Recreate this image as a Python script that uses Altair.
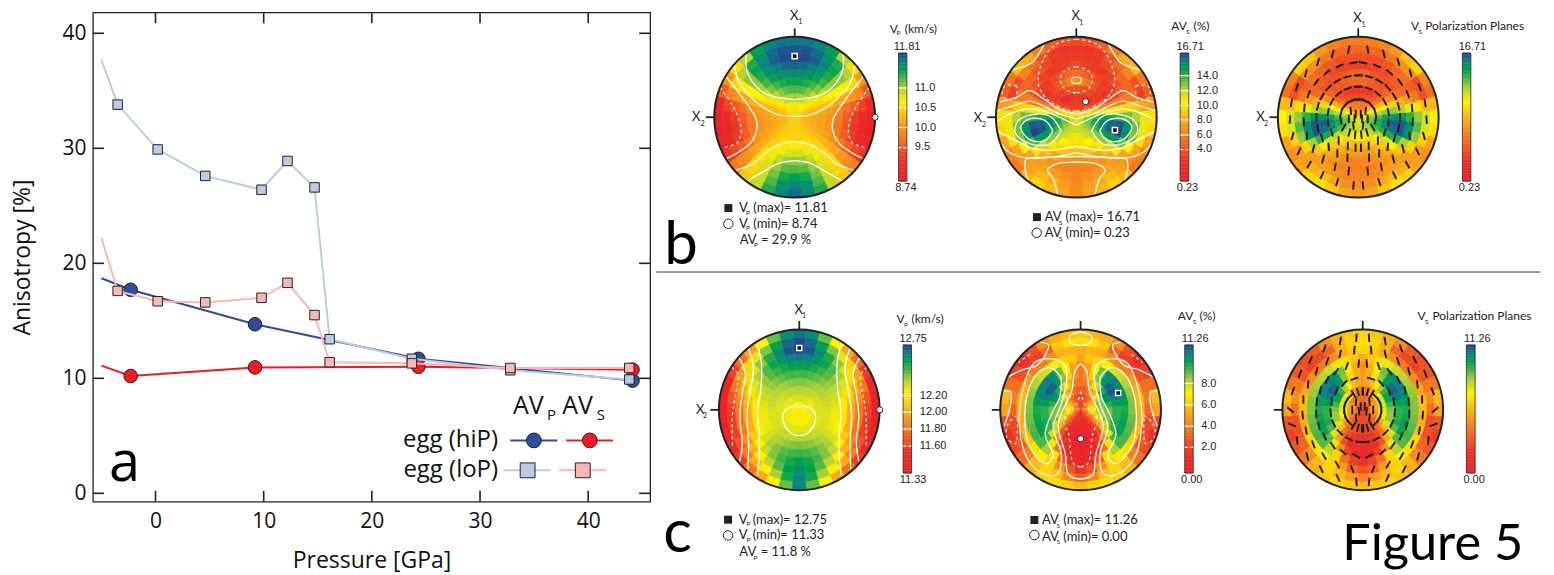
import math
import altair as alt
import numpy as np
import pandas as pd

# ---------- panel a values ----------
P_LOP = [-5.0, -3.5, 0.2, 4.6, 9.8, 12.2, 14.7, 16.1, 23.7, 32.8, 43.8]
AVP_LOP = [37.7, 33.8, 29.9, 27.6, 26.4, 28.9, 26.6, 13.4, 11.7, 10.7, 9.9]
AVS_LOP = [22.2, 17.6, 16.7, 16.6, 17.0, 18.3, 15.5, 11.4, 11.3, 10.9, 10.9]
P_HIP = [-5.0, -2.3, 9.2, 24.3, 44.1]
AVP_HIP = [18.7, 17.7, 14.7, 11.7, 9.8]
AVS_HIP = [11.1, 10.2, 10.95, 11.0, 10.75]
XTICKS = [0, 10, 20, 30, 40]
YTICKS = [0, 10, 20, 30, 40]
XDOM = [-5.79, 45.73]
YDOM = [-0.73, 41.82]

BLUE, RED, LBLUE, PINK = "#2f4d9e", "#ed1c24", "#bccbe6", "#f9b8b8"
EDGE = "#222222"

# ---------- pole figure tables: colour position (percent of bar) by ring and azimuth 0..180 ----------
RINGS = [.05, .15, .25, .35, .45, .55, .65, .75, .85, .95]
AZ = list(range(0, 190, 10))
F_B_VP = [
[57,57,57,56,56,56,55,55,54,53,53,53,54,54,54,55,55,55,55],
[65,65,64,62,60,57,54,52,51,50,50,50,51,52,53,54,55,55,55],
[74,73,72,69,65,60,55,51,49,48,47,48,49,51,53,55,56,56,56],
[80,80,78,75,70,64,57,51,47,45,44,45,47,51,54,57,59,60,60],
[86,86,84,81,76,69,60,52,45,42,41,42,45,50,56,60,64,67,68],
[92,91,89,86,81,73,62,50,40,36,35,36,41,49,57,64,70,74,75],
[97,96,94,90,84,75,62,47,34,28,26,28,35,47,58,67,74,79,80],
[100,99,97,93,86,75,60,43,28,19,17,19,29,43,57,68,77,85,87],
[98,98,96,91,84,72,57,38,21,10,8,11,23,40,56,69,80,90,93],
[95,95,93,87,72,58,43,28,10,3,2,6,18,37,53,70,84,92,96]]
F_B_AVS = [
[40,42,43,45,47,50,53,55,58,60,62,63,63,63,62,61,60,60,60],
[18,18,18,18,22,30,42,53,62,68,72,72,70,68,66,64,63,62,62],
[18,17,15,10,14,20,32,47,62,75,80,80,76,70,65,62,60,58,57],
[25,24,23,20,18,18,24,38,58,82,90,90,82,70,62,56,54,52,52],
[38,36,32,26,20,16,20,34,56,80,95,97,85,68,56,50,48,47,47],
[32,30,26,22,18,18,22,34,52,76,97,100,86,62,48,42,40,38,37],
[22,20,18,18,20,24,28,35,50,72,87,88,72,52,42,39,37,36,35],
[18,18,18,22,26,30,30,34,48,65,72,70,55,42,40,42,40,38,36],
[16,16,18,25,32,36,24,20,42,58,58,52,42,38,42,46,44,40,37],
[22,24,28,35,44,46,34,28,40,52,50,42,36,34,45,50,46,42,38]]
F_B_POL = [
[42,42,43,44,46,48,50,52,55,58,60,60,60,60,60,60,60,60,60],
[34,34,33,34,36,42,50,56,62,68,72,72,70,68,66,64,63,62,62],
[22,22,22,24,28,34,44,54,64,74,80,80,76,70,64,60,58,56,56],
[18,18,18,20,24,30,42,54,68,82,90,88,78,64,54,50,48,46,46],
[30,30,28,26,26,30,38,50,68,86,96,94,80,60,48,44,42,40,40],
[30,30,26,24,24,26,32,44,64,84,97,97,78,56,44,40,38,36,36],
[20,20,20,22,26,28,30,40,58,78,88,86,66,48,40,38,36,35,35],
[24,24,24,26,30,32,28,34,52,68,74,68,50,40,40,40,38,36,36],
[30,30,30,34,38,38,22,24,46,60,60,50,40,40,44,46,42,38,38],
[34,35,36,40,48,50,36,32,46,55,52,42,38,42,50,52,48,42,40]]
F_C_VP = [
[62,62,62,62,62,62,62,62,62,62,61,61,61,61,60,60,60,60,60],
[68,68,67,67,66,66,65,65,65,64,64,64,64,64,63,63,63,63,63],
[72,72,71,71,70,69,68,68,67,67,67,66,66,66,66,66,66,66,66],
[76,76,75,74,73,72,71,70,69,68,67,67,67,68,69,70,71,71,72],
[81,81,80,78,76,74,71,69,67,65,64,64,65,68,71,73,75,76,77],
[87,87,85,82,79,75,71,67,63,60,59,60,63,68,73,76,79,81,82],
[94,93,90,86,80,73,66,59,53,49,48,49,54,61,70,76,81,85,87],
[100,98,92,84,75,66,57,48,40,35,34,35,41,50,61,71,79,87,91],
[99,96,87,76,66,56,45,35,26,20,18,20,27,37,49,61,73,85,93],
[95,91,78,62,47,33,20,10,5,2,2,3,9,19,33,47,62,78,93]]
F_C_AVS = [
[18,20,22,24,26,30,33,35,37,38,36,34,30,26,22,18,16,15,14],
[20,21,24,28,32,38,44,48,52,55,52,46,38,30,22,15,12,10,9],
[26,27,32,38,45,56,66,70,70,68,66,60,48,35,22,12,8,6,5],
[32,34,42,52,66,80,88,85,78,72,70,72,62,45,25,10,5,2,1],
[33,38,50,70,85,96,97,92,85,78,78,80,76,60,38,18,7,4,3],
[34,42,55,72,88,92,90,88,84,80,82,84,83,76,58,32,12,6,5],
[42,48,50,55,60,62,65,68,70,70,72,74,76,75,66,52,28,12,8],
[44,45,44,38,35,35,40,44,46,45,44,45,48,52,56,50,38,25,16],
[52,52,48,30,20,18,24,32,35,30,22,22,28,36,46,50,46,36,28],
[48,46,44,38,24,14,20,32,46,42,24,16,22,32,44,50,52,50,46]]
F_C_POL = [
[28,28,28,28,28,28,28,28,28,28,28,28,26,24,22,20,20,20,20],
[30,30,32,32,34,36,38,40,42,42,40,38,34,30,26,24,22,22,22],
[34,34,38,42,48,54,60,60,60,58,56,52,44,36,30,26,24,22,22],
[40,42,46,54,66,78,84,82,76,70,68,68,60,46,32,22,18,16,16],
[40,44,52,68,84,94,96,92,84,78,78,80,74,60,42,24,14,12,12],
[38,44,56,72,86,92,92,88,84,80,82,84,82,74,58,38,20,10,8],
[44,48,52,58,62,64,66,68,70,70,72,74,76,74,64,50,32,20,16],
[50,48,44,38,34,34,38,42,46,46,44,46,50,52,56,50,40,30,26],
[52,50,44,30,22,20,26,34,38,32,24,24,30,38,46,50,46,40,36],
[50,48,44,38,28,24,26,34,46,42,26,20,26,34,44,48,50,48,46]]

# centres of the discs on the page-like panel scale
DISCS = {"bvp": (794.7, 115, F_B_VP), "bavs": (1076.7, 115, F_B_AVS), "bpol": (1359, 115, F_B_POL),
         "cvp": (799.3, 408, F_C_VP), "cavs": (1081, 408, F_C_AVS), "cpol": (1363.5, 408, F_C_POL)}
HUE_READ = {"bavs", "bpol", "cavs", "cpol"}   # tables read by hue rather than from contour levels
HUE_OLD = [0, 15, 30, 45, 55, 65, 75, 83, 92, 100]
HUE_NEW = [0, 15, 30, 50, 62, 72, 80, 87, 94, 100]
R = 80.5

# contours: (dashed, points on right half in disc units), mirrored left
CONT_B_VP = [
 (0, [(.60,.81),(.60,.60),(.52,.43),(.36,.29),(.18,.24),(0,.22)]),
 (0, [(.75,.65),(.69,.43),(.48,.19),(.23,.04),(0,.01)]),
 (0, [(.85,.50),(.64,.23),(.48,-.02),(.47,-.14),(.54,-.31),(.69,-.43),(.86,-.52)]),
 (1, [(.93,.37),(.77,.14),(.67,-.12),(.71,-.31),(.89,-.38)]),
 (0, [(0,-.30),(.19,-.34),(.36,-.44),(.52,-.58),(.74,-.66)]),
 (0, [(0,-.54),(.19,-.57),(.36,-.66),(.60,-.80)])]
CONT_B_AVS = [
 (0, [(0,.5),(.05,.49),(.06,.46),(.05,.43),(0,.42)]),
 (1, [(0,.63),(.145,.58),(.2,.47),(.145,.35),(0,.30)]),
 (1, [(0,.97),(.25,.91),(.41,.72),(.475,.43),(.37,.23),(.165,.10),(0,.07)]),
 (1, [(.74,.39),(.89,.39),(.91,.25),(.76,.23),(.74,.39)]),
 (0, [(.37,.96),(.45,.82),(.55,.68),(.75,.60),(.97,.57)]),
 (0, [(0,.04),(.21,.10),(.41,.23),(.58,.33),(.74,.25),(.95,.19)]),
 (0, [(0,-.02),(.21,.04),(.41,.14),(.58,.2),(.79,.14),(.99,.08)]),
 (0, [(0,-.10),(.21,0),(.41,.08),(.62,.10),(.83,.04),(.97,-.04)]),
 (0, [(.19,-.17),(.31,0),(.50,.04),(.72,-.04),(.76,-.19),(.58,-.33),(.33,-.33),(.19,-.17)]),
 (0, [(.29,-.17),(.39,-.04),(.58,-.02),(.69,-.12),(.58,-.28),(.39,-.29),(.29,-.17)]),
 (0, [(0,-.36),(.29,-.41),(.54,-.39),(.79,-.27),(.99,-.17)]),
 (0, [(0,-.44),(.33,-.50),(.66,-.50),(.87,-.41),(.95,-.30)]),
 (0, [(0,-.49),(.41,-.50),(.62,-.52),(.64,-.64),(.60,-.78)]),
 (0, [(0,-.56),(.25,-.58),(.36,-.66),(.29,-.76),(.23,-.97)])]
CONT_C_VP = [
 (0, [(0,.04),(.09,.04),(.19,-.03),(.19,-.17),(.09,-.30),(0,-.32)]),
 (0, [(.52,.82),(.47,.57),(.48,.24),(.52,0),(.50,-.30),(.50,-.59),(.52,-.81)]),
 (0, [(.63,.76),(.57,.53),(.61,.24),(.65,-.05),(.63,-.42),(.64,-.74)]),
 (0, [(.75,.65),(.67,.45),(.71,.2),(.74,-.09),(.71,-.42),(.74,-.64)]),
 (1, [(.84,.53),(.76,.43),(.79,.2),(.83,-.05),(.83,-.46)])]
CONT_C_AVS = [
 (0, [(0,.97),(.13,.92),(.13,.84),(0,.80)]),
 (0, [(.50,.84),(.40,.81),(.44,.68),(.55,.55),(.72,.50),(.92,.40)]),
 (0, [(0,.58),(.07,.49),(.11,.24),(.24,-.05),(.28,-.21),(.19,-.55),(.15,-.81),(0,-.86)]),
 (1, [(0,.23),(.05,.07),(.21,-.13),(.15,-.30),(.09,-.67),(0,-.71)]),
 (0, [(.19,.55),(.32,.63),(.57,.59),(.71,.28),(.76,-.21),(.65,-.63),(.44,-.81),(.28,-.79),(.24,-.55),(.34,-.21),(.24,.07),(.17,.40),(.19,.55)]),
 (0, [(.24,.40),(.36,.52),(.52,.47),(.67,.16),(.65,-.42),(.44,-.67),(.34,-.59),(.44,-.30),(.36,-.05),(.26,.16),(.24,.40)]),
 (0, [(.97,.24),(.87,.22),(.88,.02),(.95,-.20)]),
 (1, [(.79,-.07),(.90,-.17),(.92,-.34),(.81,-.42),(.79,-.07)]),
 (1, [(.63,.69),(.77,.59)])]
CONTOURS = {"bvp": CONT_B_VP, "bavs": CONT_B_AVS, "cvp": CONT_C_VP, "cavs": CONT_C_AVS}

# polarization ticks: ring radius -> (azimuth, lean from vertical) on the right half, mirrored left
TICKS_B = {
 .05: [(40,0),(110,0)],
 .12: [(50,5),(100,0),(150,5)],
 .22: [(0,90),(25,-65),(50,-40),(75,-15),(100,10),(125,-30),(150,-15),(170,-5)],
 .38: [(0,90),(20,-70),(40,-50),(60,-30),(80,-10),(100,5),(120,15),(140,0),(160,0),(175,0)],
 .52: [(0,90),(15,-75),(30,-60),(45,-45),(60,-30),(75,-15),(90,0),(105,8),(120,15),(135,5),(150,0),(165,0)],
 .68: [(5,-80),(20,-65),(35,-50),(50,-35),(65,-20),(80,-5),(95,3),(110,-5),(125,-15),(140,-15),(155,-10),(170,-5)],
 .85: [(8,-10),(22,-15),(36,-15),(50,-15),(64,-20),(78,-10),(92,-5),(106,-15),(120,-25),(134,-30),(148,-25),(162,-18),(176,-5)]}
TICKS_C = {
 .05: [(30,0),(110,5)],
 .13: [(40,-5),(90,0),(140,5)],
 .23: [(0,0),(15,15),(30,30),(45,-45),(60,-30),(75,-15),(90,0),(105,15),(120,30),(135,45),(150,-30),(165,-15),(178,0)],
 .40: [(15,-70),(35,-40),(55,-20),(75,-5),(95,5),(115,25),(135,45),(155,65),(175,85)],
 .58: [(5,-5),(20,-20),(35,-35),(50,-25),(65,-10),(80,-3),(95,3),(110,12),(125,22),(140,35),(155,48),(172,60)],
 .75: [(8,-5),(22,-12),(36,-20),(50,-15),(65,-5),(80,0),(95,5),(110,10),(125,20),(140,30),(155,30),(170,20)],
 .90: [(5,-3),(18,-10),(32,-20),(46,-25),(60,-20),(75,-20),(90,50),(102,70),(115,5),(130,15),(145,25),(160,25),(175,5)]}

# colour bars: left, right, top, bottom, tick positions (fraction, dashed)
BARS = [
 (898.7, 907, 50.7, 179, [(.727,0),(.574,0),(.418,0),(.262,1)]),
 (1180.7, 1189.3, 50.7, 179, [(.823,0),(.706,0),(.59,0),(.478,0),(.361,0),(.247,1)]),
 (1463.3, 1471.7, 50.7, 179, []),
 (903.3, 911.7, 343, 471.3, [(.605,0),(.475,0),(.343,0),(.21,1)]),
 (1185.3, 1193.7, 343, 471.3, [(.699,0),(.532,0),(.366,0),(.2,1)]),
 (1467.3, 1476, 343, 471.3, [])]
STOPS = [0, .15, .3, .5, .62, .72, .8, .87, .94, 1]
COLORS = ["#e8202a", "#ea2e26", "#f26522", "#fbb417", "#fff200", "#b5d334", "#4cb748", "#00a14b", "#0b7f86", "#27408f"]

# max / min markers (disc, u, v)
MAX_MARK = [("bvp", 0, .76), ("bavs", .48, -.16), ("cvp", 0, .77), ("cavs", .467, .21)]
MIN_MARK = [("bvp", 1, 0), ("bavs", .116, .194), ("cvp", 1, 0), ("cavs", 0, -.36)]
LEG_SQ = [(728.3, 206), (1037.3, 215), (728, 518), (1034.7, 518.3)]
LEG_CI = [(728.3, 221.7), (1037, 230.7), (728, 533.7), (1034.7, 533.3)]
SEP = (656, 1541, 270)

M, H = "Lato", "Liberation Sans"
# x, y, text, size, align, font
T = [
 # b Vp
 (794.3,13.3,"X",13,"center",M),(800.3,20,"1",7,"center",M),(696,115,"X",13,"center",M),(702.7,121.7,"2",7,"center",M),
 (890,26.7,"V",12,"left",M),(898.7,30.7,"P",6.5,"center",M),(905,26.7,"(km/s)",12,"left",M),
 (907.3,45,"11.81",11,"center",H),(906,185.7,"8.74",11,"center",H),
 (915,85.7,"11.0",11,"left",H),(915,105.3,"10.5",11,"left",H),(915,125.3,"10.0",11,"left",H),(915,145.3,"9.5",11,"left",H),
 (739,206,"V",13,"left",M),(748,210.7,"P",6.5,"center",M),(753.3,206,"(max)= 11.81",13,"left",M),
 (739,221.7,"V",13,"left",M),(748,226.4,"P",6.5,"center",M),(753.3,221.7,"(min)= 8.74",13,"left",M),
 (739.7,238,"AV",13,"left",M),(756,243,"P",6.5,"center",M),(761,238,"= 29.9 %",13,"left",M),
 # b AVs
 (1076,14,"X",13,"center",M),(1081.7,21,"1",7,"center",M),(978.3,115.7,"X",13,"center",M),(984.3,122.7,"2",7,"center",M),
 (1171.7,24,"AV",12,"left",M),(1188.3,30,"S",6.5,"center",M),(1194,24,"(%)",12,"left",M),
 (1190.7,45,"16.71",11,"center",H),(1188,185.7,"0.23",11,"center",H),
 (1197.3,73.3,"14.0",11,"left",H),(1197.3,88.3,"12.0",11,"left",H),(1197.3,103.3,"10.0",11,"left",H),
 (1197.3,117.7,"8.0",11,"left",H),(1197.3,132.7,"6.0",11,"left",H),(1197.3,147.3,"4.0",11,"left",H),
 (1045,215,"AV",13,"left",M),(1061,220.7,"S",6.5,"center",M),(1066,215,"(max)= 16.71",13,"left",M),
 (1045,231,"AV",13,"left",M),(1061,236.7,"S",6.5,"center",M),(1066,231,"(min)= 0.23",13,"left",M),
 # b pol
 (1358.3,15.7,"X",13,"center",M),(1364.3,22.3,"1",7,"center",M),(1261,115,"X",13,"center",M),(1266.7,121.7,"2",7,"center",M),
 (1411.7,23.7,"V",12,"left",M),(1421,30,"S",6.5,"center",M),(1426,23.7,"Polarization Planes",12,"left",M),
 (1473.3,45,"16.71",11,"center",H),(1470.3,185.7,"0.23",11,"center",H),
 # c Vp
 (798.7,307.7,"X",13,"center",M),(804,314.3,"1",7,"center",M),(700,408.3,"X",13,"center",M),(705,414.3,"2",7,"center",M),
 (896.7,316.7,"V",12,"left",M),(906,322.7,"P",6.5,"center",M),(911.7,316.7,"(km/s)",12,"left",M),
 (913.3,336.7,"12.75",11,"center",H),(913.3,478.7,"11.33",11,"center",H),
 (920,393.7,"12.20",11,"left",H),(920,410.3,"12.00",11,"left",H),(920,427.3,"11.80",11,"left",H),(920,444.3,"11.60",11,"left",H),
 (738.7,518,"V",13,"left",M),(748.3,522.7,"P",6.5,"center",M),(752.7,518,"(max)= 12.75",13,"left",M),
 (738.7,533.7,"V",13,"left",M),(748.3,538.4,"P",6.5,"center",M),(752.7,533.7,"(min)= 11.33",13,"left",M),
 (739.3,550,"AV",13,"left",M),(755.3,556,"P",6.5,"center",M),(760.7,550,"= 11.8 %",13,"left",M),
 # c AVs
 (1178.3,314.3,"AV",12,"left",M),(1195,320,"S",6.5,"center",M),(1200,314.3,"(%)",12,"left",M),
 (1195.7,336.7,"11.26",11,"center",H),(1192.3,478.7,"0.00",11,"center",H),
 (1201.7,381.7,"8.0",11,"left",H),(1201.7,403,"6.0",11,"left",H),(1201.7,424.3,"4.0",11,"left",H),(1201.7,445.7,"2.0",11,"left",H),
 (1042.3,518.3,"AV",13,"left",M),(1058.7,524,"S",6.5,"center",M),(1063.7,518.3,"(max)= 11.26",13,"left",M),
 (1042.3,535,"AV",13,"left",M),(1058.7,540.7,"S",6.5,"center",M),(1063.7,535,"(min)= 0.00",13,"left",M),
 # c pol
 (1418.3,314,"V",12,"left",M),(1427.7,320,"S",6.5,"center",M),(1433.3,314,"Polarization Planes",12,"left",M),
 (1478.3,336.7,"11.26",11,"center",H),(1475,478.7,"0.00",11,"center",H),
]
BIG = [(664,262,"b",60),(663,550,"c",60),(1343,558,"Figure 5",50.5)]

# ---------- panel a ----------
sx = alt.Scale(domain=XDOM, nice=False, zero=False)
sy = alt.Scale(domain=YDOM, nice=False, zero=False)
FONT = "Open Sans"

def ax_frame():
    rows = []
    for t in XTICKS:
        rows.append(dict(x=t, y=YDOM[0], x2=t, y2=YDOM[0] + .95))
        rows.append(dict(x=t, y=YDOM[1], x2=t, y2=YDOM[1] - .95))
    for t in YTICKS:
        rows.append(dict(x=XDOM[0], y=t, x2=XDOM[0] + 1.02, y2=t))
        rows.append(dict(x=XDOM[1], y=t, x2=XDOM[1] - 1.02, y2=t))
    return pd.DataFrame(rows)

xaxis = alt.Axis(values=XTICKS, tickSize=0, domain=False, grid=False, labelFont=FONT, labelFontSize=21,
                 labelPadding=9, labelColor="#111", title="Pressure [GPa]", titleFont=FONT, titleFontSize=23,
                 titleFontWeight="normal", titlePadding=18, titleColor="#111")
yaxis = alt.Axis(values=YTICKS, tickSize=0, domain=False, grid=False, labelFont=FONT, labelFontSize=21,
                 labelPadding=7, labelColor="#111", title="Anisotropy [%]", titleFont=FONT, titleFontSize=23,
                 titleFontWeight="normal", titlePadding=27, titleColor="#111")
X = alt.X("x:Q", scale=sx, axis=xaxis)
Y = alt.Y("y:Q", scale=sy, axis=yaxis)
frame = alt.Chart(ax_frame()).mark_rule(color="#222", strokeWidth=1.6).encode(x=X, y=Y, x2="x2:Q", y2="y2:Q")

def series(xs, ys, color, shape, size):
    df = pd.DataFrame({"x": xs, "y": ys, "o": range(len(xs))})
    line = alt.Chart(df).mark_line(color=color, strokeWidth=2, clip=True).encode(x=X, y=Y, order="o:Q")
    mk = alt.Chart(df.iloc[1:]).mark_point(shape=shape, filled=True, fill=color, stroke=EDGE, strokeWidth=1,
                                           opacity=1, size=size).encode(x=X, y=Y)
    return line, mk

l1, m1 = series(P_HIP, AVP_HIP, BLUE, "circle", 185)
l2, m2 = series(P_HIP, AVS_HIP, RED, "circle", 185)
l3, m3 = series(P_LOP, AVP_LOP, LBLUE, "square", 90)
l4, m4 = series(P_LOP, AVS_LOP, PINK, "square", 90)

def leg(x0, x1, xm, y, color, shape, size):
    df = pd.DataFrame({"x": [x0, x1], "y": [y, y], "o": [0, 1]})
    l = alt.Chart(df).mark_line(color=color, strokeWidth=2).encode(x=X, y=Y, order="o:Q")
    p = alt.Chart(pd.DataFrame({"x": [xm], "y": [y]})).mark_point(shape=shape, filled=True, fill=color, stroke=EDGE,
                  strokeWidth=1, opacity=1, size=size).encode(x=X, y=Y)
    return [l, p]

legs = (leg(32.8, 37.15, 34.98, 4.6, BLUE, "circle", 220) + leg(37.97, 42.3, 40.15, 4.6, RED, "circle", 220)
        + leg(32.16, 36.5, 34.4, 2.0, LBLUE, "square", 220) + leg(37.3, 41.67, 39.5, 2.0, PINK, "square", 220))

ltxt = pd.DataFrame([
    dict(x=33.04, y=7.6, t="AV", s=25), dict(x=36.2, y=6.8, t="P", s=15),
    dict(x=37.6, y=7.6, t="AV", s=25), dict(x=40.8, y=6.8, t="S", s=15)])
tleg1 = alt.Chart(ltxt).mark_text(align="left", baseline="middle", font=FONT, color="#111").encode(
    x=X, y=Y, text="t:N", size=alt.Size("s:Q", scale=None))
tleg2 = alt.Chart(pd.DataFrame([dict(x=31.67, y=4.6, t="egg (hiP)"), dict(x=31.67, y=2.0, t="egg (loP)")])).mark_text(
    align="right", baseline="middle", font=FONT, fontSize=24, color="#111").encode(x=X, y=Y, text="t:N")
tleg3 = alt.Chart(pd.DataFrame([dict(x=-4.3, y=1.05, t="a")])).mark_text(
    align="left", baseline="alphabetic", font=FONT, fontSize=56, color="#000").encode(x=X, y=Y, text="t:N")

left = alt.layer(frame, l1, l2, m1, m2, l3, l4, m3, m4, *legs, tleg1, tleg2, tleg3).properties(
    width=558, height=490, view=alt.ViewBackground(stroke="#222", strokeWidth=1.3))
spacer = alt.Chart(pd.DataFrame({"v": [0]})).mark_point(opacity=0, size=0.01).encode(x=alt.value(0), y=alt.value(0)).properties(
    width=558, height=1, view=alt.ViewBackground(stroke="transparent"))
left_col = alt.vconcat(spacer, left, spacing=-4)

# ---------- panels b, c ----------
PX = alt.Scale(domain=[656, 1546], range=[0, 890], nice=False, zero=False)
PY = alt.Scale(domain=[8, 562], range=[0, 554], nice=False, zero=False)
CS = alt.Scale(domain=STOPS, range=COLORS, interpolate="rgb")
TH = alt.Scale(domain=[-10, 370], range=[math.radians(-10), math.radians(370)], nice=False, zero=False)
RS = alt.Scale(type="linear", domain=[0, 1], range=[0, R], nice=False, zero=True)
PXE = alt.X("x:Q", scale=PX, axis=None)
PYE = alt.Y("y:Q", scale=PY, axis=None)

cells = []
for name, (cx, cy, tbl) in DISCS.items():
    for i, row in enumerate(tbl):
        for a, v in zip(AZ, row):
            r0, r1 = RINGS[i] - .05, RINGS[i] + .05
            c = float(np.interp(v, HUE_OLD, HUE_NEW)) / 100 if name in HUE_READ else v / 100
            cells.append(dict(x=cx, y=cy, t0=a - 5 if a else -5, t1=a + 5, r0=r0, r1=r1, c=c))
            if 0 < a < 180:
                cells.append(dict(x=cx, y=cy, t0=355 - a, t1=365 - a, r0=r0, r1=r1, c=c))
arcs = alt.Chart(pd.DataFrame(cells)).mark_arc(strokeWidth=.6).encode(
    x=PXE, y=PYE,
    theta=alt.Theta("t0:Q", scale=TH, stack=False), theta2=alt.Theta2("t1:Q"),
    radius=alt.Radius("r0:Q", scale=RS), radius2=alt.Radius2("r1:Q"),
    color=alt.Color("c:Q", scale=CS, legend=None), stroke=alt.Stroke("c:Q", scale=CS, legend=None))

rows, gid = [], 0
for name, items in CONTOURS.items():
    cx, cy, _ = DISCS[name]
    for dashed, pts in items:
        for sgn in (1, -1):
            gid += 1
            for k, (u, v) in enumerate(pts):
                rows.append(dict(x=cx + sgn * u * R, y=cy - v * R, g=gid, o=k, d=dashed))
cdf = pd.DataFrame(rows)
cont_s = alt.Chart(cdf[cdf.d == 0]).mark_line(color="white", strokeWidth=1.3, interpolate="catmull-rom").encode(
    x=PXE, y=PYE, detail="g:N", order="o:Q")
cont_d = alt.Chart(cdf[cdf.d == 1]).mark_line(color="white", strokeWidth=1.2, strokeDash=[3, 3], interpolate="catmull-rom").encode(
    x=PXE, y=PYE, detail="g:N", order="o:Q")

seg = []
for name, tk in (("bpol", TICKS_B), ("cpol", TICKS_C)):
    cx, cy, _ = DISCS[name]
    for r, lst in tk.items():
        for az, lean in lst:
            for sgn in (1, -1):
                u, v = sgn * r * math.sin(math.radians(az)), r * math.cos(math.radians(az))
                dx, dy = sgn * 4.2 * math.sin(math.radians(lean)), 4.2 * math.cos(math.radians(lean))
                px, py = cx + u * R, cy - v * R
                seg.append(dict(x=px - dx, y=py + dy, x2=px + dx, y2=py - dy))
pol = alt.Chart(pd.DataFrame(seg)).mark_rule(color="#1c1c1c", strokeWidth=1.9).encode(x=PXE, y=PYE, x2="x2:Q", y2="y2:Q")

dticks = []
for name, (cx, cy, _) in DISCS.items():
    dticks.append(dict(x=cx, y=cy - R, x2=cx, y2=cy - R - 8.5))
    dticks.append(dict(x=cx - R, y=cy, x2=cx - R - 8.5, y2=cy))
dt = alt.Chart(pd.DataFrame(dticks)).mark_rule(color="#222", strokeWidth=1.8).encode(x=PXE, y=PYE, x2="x2:Q", y2="y2:Q")
rim = alt.Chart(pd.DataFrame([dict(x=v[0], y=v[1]) for v in DISCS.values()])).mark_point(
    shape="circle", filled=False, stroke="#222", strokeWidth=2, opacity=1, size=(2 * R) ** 2).encode(x=PXE, y=PYE)

barcells, barbox, barticks = [], [], []
N = 48
for x0, x1, y0, y1, tk in BARS:
    h = (y1 - y0) / N
    for i in range(N):
        barcells.append(dict(x=x0, x2=x1, y=y1 - i * h, y2=y1 - (i + 1) * h, c=(i + .5) / N))
    barbox.append(dict(x=x0, x2=x1, y=y0, y2=y1))
    for f, d in tk:
        barticks.append(dict(x=x0, x2=x1, y=y1 - f * (y1 - y0), d=d))
bc = alt.Chart(pd.DataFrame(barcells)).mark_rect(strokeWidth=.4).encode(
    x=PXE, y=PYE, x2="x2:Q", y2="y2:Q", color=alt.Color("c:Q", scale=CS, legend=None), stroke=alt.Stroke("c:Q", scale=CS, legend=None))
bb = alt.Chart(pd.DataFrame(barbox)).mark_rect(fillOpacity=0, stroke="#333", strokeWidth=.8).encode(x=PXE, y=PYE, x2="x2:Q", y2="y2:Q")
btdf = pd.DataFrame(barticks)
bt1 = alt.Chart(btdf[btdf.d == 0]).mark_rule(color="white", strokeWidth=1.2).encode(x=PXE, y=PYE, x2="x2:Q")
bt2 = alt.Chart(btdf[btdf.d == 1]).mark_rule(color="white", strokeWidth=1.2, strokeDash=[3, 2]).encode(x=PXE, y=PYE, x2="x2:Q")

def pos(lst):
    out = []
    for n, u, v in lst:
        cx, cy, _ = DISCS[n]
        out.append(dict(x=cx + u * R, y=cy - v * R))
    return pd.DataFrame(out)
mx = alt.Chart(pos(MAX_MARK)).mark_point(shape="square", filled=True, fill="#111", stroke="white", strokeWidth=1.5, opacity=1, size=26).encode(x=PXE, y=PYE)
mn = alt.Chart(pos(MIN_MARK)).mark_point(shape="circle", filled=True, fill="white", stroke="#222", strokeWidth=1, opacity=1, size=38).encode(x=PXE, y=PYE)
lsq = alt.Chart(pd.DataFrame(LEG_SQ, columns=["x", "y"])).mark_point(shape="square", filled=True, fill="#222", opacity=1, strokeWidth=0, size=64).encode(x=PXE, y=PYE)
lci = alt.Chart(pd.DataFrame(LEG_CI, columns=["x", "y"])).mark_point(shape="circle", filled=True, fill="white", stroke="#222", strokeWidth=1, opacity=1, size=90).encode(x=PXE, y=PYE)
sep = alt.Chart(pd.DataFrame([dict(x=SEP[0], x2=SEP[1], y=SEP[2])])).mark_rule(color="#333", strokeWidth=1).encode(x=PXE, y=PYE, x2="x2:Q")

tdf = pd.DataFrame(T, columns=["x", "y", "t", "s", "a", "f"])
tlayers = []
for (a, f), g in tdf.groupby(["a", "f"]):
    tlayers.append(alt.Chart(g).mark_text(align=a, baseline="middle", font=f, color="#222").encode(
        x=PXE, y=PYE, text="t:N", size=alt.Size("s:Q", scale=None)))
big = alt.Chart(pd.DataFrame(BIG, columns=["x", "y", "t", "s"])).mark_text(
    align="left", baseline="alphabetic", font=M, color="#000").encode(x=PXE, y=PYE, text="t:N", size=alt.Size("s:Q", scale=None))

right = alt.layer(arcs, cont_s, cont_d, pol, dt, rim, bc, bb, bt1, bt2, mx, mn, lsq, lci, sep, *tlayers, big).properties(
    width=890, height=554, view=alt.ViewBackground(stroke="transparent"))

chart = alt.hconcat(left_col, right, spacing=3).properties(
    padding={"left": 3, "top": 0, "right": 0, "bottom": 0}, background="white"
).resolve_scale(color="independent", x="independent", y="independent")

chart.save("out.html", embed_options={"renderer": "svg", "actions": False})
